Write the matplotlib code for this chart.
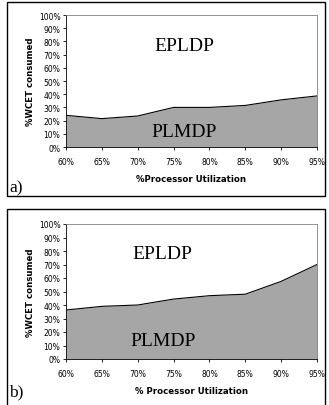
import numpy as np
import matplotlib
matplotlib.use('Agg')
import matplotlib.pyplot as plt
from matplotlib.patches import Rectangle
from matplotlib.ticker import PercentFormatter

# data
util = [60, 65, 70, 75, 80, 85, 90, 95]
util_labels = ['60%', '65%', '70%', '75%', '80%', '85%', '90%', '95%']
wcet_a = [24, 21.5, 23.5, 30, 30, 31.5, 35.7, 38.7]
wcet_b = [36.3, 39, 40, 44.4, 46.9, 48, 57.5, 70]

W, H = 329, 406
fig = plt.figure(figsize=(W/100, H/100), dpi=100)

def px_axes(l, t, r, b):
    return fig.add_axes([l/W, 1-b/H, (r-l)/W, (b-t)/H])

def panel(box, area, y, xlabel, tag, top_lab, bot_lab, xlab_y, tag_y):
    # outer frame
    l, t, r, b = box
    fig.patches.append(Rectangle((l/W, 1-b/H), (r-l)/W, (b-t)/H, transform=fig.transFigure,
                                 fill=False, edgecolor='black', linewidth=1.0))
    ax = px_axes(*area)
    ax.fill_between(util, y, 0, color='#a6a6a6', linewidth=0)
    ax.plot(util, y, color='black', linewidth=0.8)
    ax.set_xlim(60, 95)
    ax.set_ylim(0, 100)
    ax.set_xticks(util)
    ax.set_xticklabels(util_labels)
    ax.set_yticks(np.arange(0, 101, 10))
    ax.yaxis.set_major_formatter(PercentFormatter(decimals=0))
    ax.tick_params(labelsize=5.5, length=2, width=0.6, pad=2, colors='black')
    ax.tick_params(axis='x', pad=5)
    for s in ax.spines.values():
        s.set_color('#808080')
        s.set_linewidth(0.6)
    ax.spines['left'].set_color('black')
    ax.spines['bottom'].set_color('black')
    ax.set_ylabel('%WCET consumed', fontsize=6.2, fontweight='bold', labelpad=3)
    ax.text(top_lab[0], top_lab[1], 'EPLDP', transform=ax.transData, fontsize=14,
            family='Liberation Serif', ha='center', va='center')
    ax.text(bot_lab[0], bot_lab[1], 'PLMDP', transform=ax.transData, fontsize=14,
            family='Liberation Serif', ha='center', va='center')
    fig.text((area[0]+area[2])/2/W, 1-xlab_y/H, xlabel, fontsize=6.2, fontweight='bold',
             ha='center', va='center')
    fig.text(9/W, 1-tag_y/H, tag, fontsize=12.5, family='Liberation Serif',
             ha='left', va='center')
    return ax

panel((7, 3, 325, 197), (66, 16, 317, 148), wcet_a, '%Processor Utilization', 'a)',
      (76.5, 77), (76.5, 12), 180, 188)
panel((7, 210, 325, 420), (66, 225, 317, 360), wcet_b, '% Processor Utilization', 'b)',
      (73.4, 78), (73.5, 13.5), 392, 392)

fig.savefig('out.png', dpi=100)
